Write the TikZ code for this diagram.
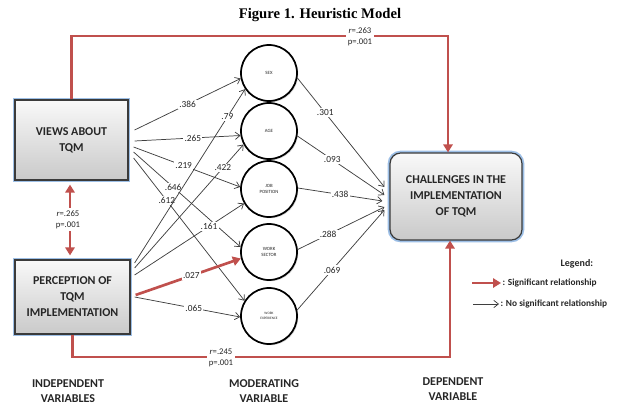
\documentclass[tikz,border=0pt]{standalone}
\usepackage{fontspec}
\setmainfont{Carlito}
\newfontfamily\titlefont{Liberation Serif}
\usetikzlibrary{arrows.meta, positioning, calc, shadows}
\definecolor{sigred}{HTML}{C0504D}
\definecolor{glowblue}{HTML}{9DBFE6}
\definecolor{boxline}{HTML}{3A3A3A}
\definecolor{darktext}{HTML}{262626}
\definecolor{linegray}{HTML}{3F3F3F}

\begin{document}
\begin{tikzpicture}[x=0.75pt, y=-0.75pt,
    every node/.style={font=\fontsize{7}{8.5}\selectfont, text=darktext},
    varbox/.style={rectangle, draw=boxline, line width=0.9pt, top color=gray!5, bottom color=gray!42,
        preaction={draw=glowblue, line width=3.5pt}, align=center, inner sep=0pt,
        font=\fontsize{9}{12}\selectfont\bfseries},
    modcircle/.style={circle, draw=black, line width=1.3pt, fill=white, minimum size=42pt, inner sep=0pt,
        align=center, font=\fontsize{3.6}{4.6}\selectfont,
        drop shadow={shadow xshift=0.9pt, shadow yshift=-0.9pt, opacity=0.35}},
    coef/.style={fill=white, inner sep=1pt, font=\fontsize{7}{8}\selectfont},
    statlabel/.style={fill=white, inner sep=1.5pt, align=center, font=\fontsize{6.5}{8.5}\selectfont},
    varlabel/.style={align=center, font=\fontsize{9}{11.25}\selectfont\bfseries},
    legtext/.style={anchor=west, inner sep=1pt, font=\fontsize{7}{8}\selectfont\bfseries},
    thinarrow/.style={draw=linegray, line width=0.55pt, -{Straight Barb[length=3.5pt, width=5.5pt]}},
    sigarrow/.style={draw=sigred, line width=2pt, -{Triangle[length=6pt, width=7pt]}},
]
\useasboundingbox (0,0) rectangle (617,406);
% Title
\node[font=\titlefont\bfseries\fontsize{11}{13}\selectfont, text=black] (title) at (320,15) {Figure 1. Heuristic Model};
% Independent variables
\node[varbox, minimum width=84.75pt, minimum height=60pt] (views) at (71.5,140) {VIEWS ABOUT\\TQM};
\node[varbox, minimum width=86.25pt, minimum height=55.5pt] (perc) at (72.5,297) {PERCEPTION OF\\TQM\\IMPLEMENTATION};
% Dependent variable
\node[varbox, rounded corners=8pt, minimum width=99pt, minimum height=65.25pt] (chal) at (456,196.5) {CHALLENGES IN THE\\IMPLEMENTATION\\OF TQM};
% Moderating variables
\node[modcircle] (sex) at (269,73) {SEX};
\node[modcircle] (age) at (269,131) {AGE};
\node[modcircle] (job) at (269,189) {JOB\\POSITION};
\node[modcircle] (ws) at (269,252) {WORK\\SECTOR};
\node[modcircle, font=\fontsize{2.6}{3.4}\selectfont] (we) at (269,316) {WORK\\EXPERIENCE};
% Views about TQM -> moderators
\draw[thinarrow] ($(views.east)+(6,-10)$) -- node[coef, pos=.5] (c386) {.386} (sex.191);
\draw[thinarrow] ($(views.east)+(6,1)$) -- node[coef, pos=.55] (c265) {.265} (age.189);
\draw[thinarrow] ($(views.east)+(5,7)$) -- node[coef, pos=.47] (c219) {.219} (job.176);
\draw[thinarrow] ($(views.east)+(5,12)$) -- node[coef, pos=.37] (c646) {.646} (ws.170);
\draw[thinarrow] ($(views.east)+(5,18)$) -- node[coef, pos=.3] (c612) {.612} (we.148);
% Perception of TQM implementation -> moderators
\draw[thinarrow] ($(perc.east)+(4,-34)$) -- node[coef, pos=.84] (c79) {.79} (sex.214);
\draw[thinarrow] ($(perc.east)+(4,-29)$) -- node[coef, pos=.81] (c422) {.422} (age.208);
\draw[thinarrow] ($(perc.east)+(4,-22)$) -- node[coef, pos=.68] (c161) {.161} (job.210);
\draw[sigarrow] ($(perc.east)+(5,-2)$) -- node[coef, pos=.53] (c027) {.027} (ws.193);
\draw[thinarrow] ($(perc.east)+(4,0)$) -- node[coef, pos=.56] (c065) {.065} (we.182);
% Moderators -> challenges
\draw[thinarrow] (sex.350) -- node[coef, pos=.32] (c301) {.301} ($(chal.west)+(-5,-9.5)$);
\draw[thinarrow] (age.350) -- node[coef, pos=.4] (c093) {.093} ($(chal.west)+(-5,-1.5)$);
\draw[thinarrow] (job.2) -- node[coef, pos=.5] (c438) {.438} ($(chal.west)+(-7,4.5)$);
\draw[thinarrow] (ws.5) -- node[coef, pos=.35] (c288) {.288} ($(chal.west)+(-5,10.5)$);
\draw[thinarrow] (we.12) -- node[coef, pos=.4] (c069) {.069} ($(chal.west)+(-5,13.5)$);
% Direct relationships (red)
\coordinate (topL) at (71.5,36);
\coordinate (topR) at (448,36);
\draw[sigarrow] (views.north) -- (topL) -- (topR) -- (chal.north -| topR);
\node[statlabel] (r263) at (360,36.5) {\textit{r}=.263\\p=.001};
\coordinate (botL) at (72.5,357);
\coordinate (botR) at (450,357);
\draw[sigarrow] (perc.south) -- (botL) -- (botR) -- (chal.south -| botR);
\node[statlabel] (r245) at (221,358) {\textit{r}=.245\\p=.001};
\draw[sigarrow, {Triangle[length=6pt, width=7pt]}-{Triangle[length=6pt, width=7pt]}, shorten <=3pt, shorten >=3pt] (views.south -| 70,0) -- (perc.north -| 70,0);
\node[statlabel] (r265) at (68,219.5) {\textit{r}=.265\\p=.001};
% Legend
\node[font=\fontsize{7.5}{9}\selectfont\bfseries, anchor=west] (legend) at (556,264) {Legend:};
\node[legtext] (legsig) at (501,283) {: Significant relationship};
\node[legtext] (legnon) at (499,304) {: No significant relationship};
\coordinate (legA) at (472,283);
\coordinate (legB) at (473,304);
\draw[sigarrow] (legA) -- (legsig.west);
\draw[thinarrow] (legB) -- (legnon.west);
% Variable type labels
\node[varlabel] (indep) at (68,391) {INDEPENDENT\\VARIABLES};
\node[varlabel] (moder) at (264,391.5) {MODERATING\\VARIABLE};
\node[varlabel] (depen) at (453,389.5) {DEPENDENT\\VARIABLE};
\end{tikzpicture}
\end{document}
